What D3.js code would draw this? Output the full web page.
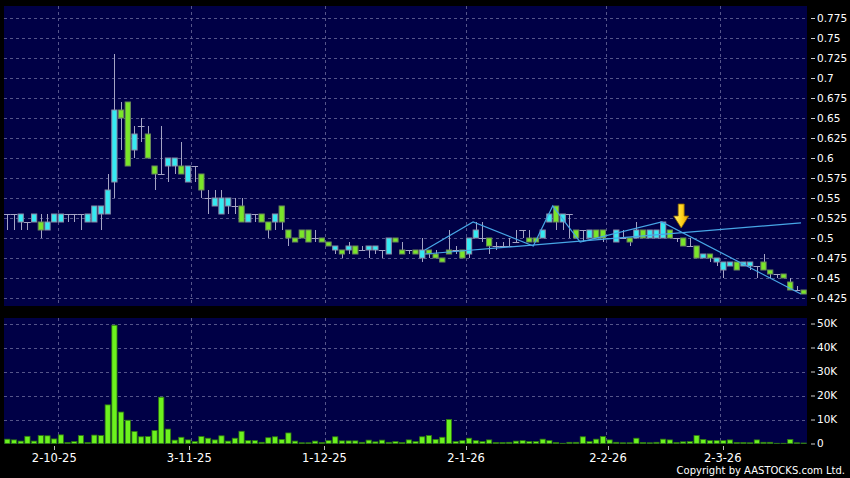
<!DOCTYPE html>
<html>
<head>
<meta charset="utf-8">
<script src="https://cdn.jsdelivr.net/npm/d3@7"></script>
<style>
  body { margin: 0; background: #000; }
  svg { display: block; }
  text { font-family: "DejaVu Sans", Verdana, sans-serif; fill: #fff; }
</style>
</head>
<body>
<script>
// trading calendar (HK holidays inside the range)
const firstDay = "2025-09-22";
const lastDay = "2026-03-19";
const holidays = ["2025-10-01", "2025-10-07", "2025-10-29", "2025-12-25", "2025-12-26",
                  "2026-01-01", "2026-02-17", "2026-02-18", "2026-02-19"];
const dateLabels = ["2-10-25", "3-11-25", "1-12-25", "2-1-26", "2-2-26", "2-3-26"];

// daily prices
const open = [0.53,0.53,0.52,0.52,0.52,0.52,0.51,0.52,0.52,0.53, 0.53,0.53,0.52,0.52,0.53,0.53,0.57,0.66,0.67,0.61,
              0.64,0.63,0.59,0.58,0.59,0.59,0.59,0.57,0.59,0.58, 0.55,0.54,0.53,0.54,0.54,0.54,0.52,0.53,0.53,0.52,
              0.52,0.54,0.51,0.50,0.51,0.51,0.50,0.50,0.495,0.485, 0.485,0.485,0.49,0.485,0.485,0.485,0.485,0.48,0.50,0.485,
              0.485,0.485,0.475,0.485,0.48,0.475,0.485,0.485,0.485,0.48, 0.50,0.50,0.50,0.49,0.49,0.49,0.495,0.51,0.50,0.50,
              0.50,0.52,0.54,0.52,0.53,0.51,0.51,0.50,0.51,0.51, 0.50,0.495,0.50,0.50,0.50,0.51,0.50,0.50,0.50,0.51,
              0.50,0.50,0.49,0.49,0.475,0.48,0.47,0.46,0.465,0.47, 0.465,0.465,0.465,0.47,0.46,0.455,0.455,0.445,0.435,0.435];
const high = [0.53,0.53,0.53,0.52,0.53,0.53,0.53,0.53,0.53,0.53, 0.53,0.53,0.53,0.54,0.54,0.58,0.73,0.67,0.67,0.64,
              0.65,0.64,0.59,0.64,0.60,0.60,0.62,0.59,0.59,0.58, 0.56,0.56,0.56,0.55,0.55,0.55,0.53,0.53,0.53,0.52,
              0.53,0.54,0.51,0.50,0.51,0.51,0.51,0.50,0.495,0.49, 0.485,0.495,0.49,0.49,0.49,0.49,0.485,0.50,0.50,0.495,
              0.485,0.485,0.50,0.485,0.485,0.475,0.51,0.49,0.485,0.50, 0.52,0.52,0.50,0.495,0.495,0.50,0.51,0.51,0.51,0.50,
              0.51,0.53,0.54,0.53,0.53,0.51,0.51,0.51,0.51,0.51, 0.50,0.51,0.51,0.50,0.52,0.51,0.51,0.51,0.52,0.51,
              0.50,0.50,0.50,0.49,0.48,0.48,0.475,0.47,0.47,0.47, 0.47,0.47,0.465,0.48,0.46,0.455,0.455,0.45,0.44,0.435];
const low = [0.51,0.51,0.51,0.51,0.52,0.50,0.51,0.52,0.52,0.52, 0.52,0.51,0.52,0.52,0.51,0.53,0.55,0.61,0.59,0.60,
             0.62,0.60,0.56,0.58,0.57,0.58,0.58,0.57,0.57,0.55, 0.53,0.54,0.53,0.53,0.53,0.52,0.52,0.52,0.52,0.50,
             0.51,0.51,0.49,0.495,0.50,0.495,0.495,0.495,0.49,0.48, 0.475,0.48,0.48,0.485,0.475,0.48,0.475,0.48,0.495,0.48,
             0.48,0.48,0.47,0.475,0.475,0.47,0.48,0.48,0.475,0.475, 0.50,0.495,0.48,0.485,0.49,0.49,0.495,0.50,0.495,0.495,
             0.50,0.52,0.51,0.51,0.50,0.50,0.495,0.50,0.50,0.495, 0.50,0.495,0.50,0.49,0.50,0.50,0.50,0.50,0.50,0.50,
             0.495,0.49,0.49,0.475,0.475,0.47,0.465,0.45,0.465,0.46, 0.465,0.46,0.45,0.46,0.45,0.45,0.45,0.435,0.435,0.43];
const close = [0.53,0.53,0.53,0.52,0.53,0.51,0.52,0.53,0.53,0.53, 0.53,0.53,0.53,0.54,0.54,0.56,0.66,0.65,0.59,0.63,
               0.64,0.60,0.58,0.58,0.60,0.60,0.58,0.59,0.59,0.56, 0.55,0.55,0.55,0.55,0.54,0.52,0.53,0.53,0.52,0.51,
               0.53,0.52,0.50,0.495,0.50,0.495,0.50,0.495,0.49,0.49, 0.48,0.49,0.48,0.485,0.49,0.49,0.485,0.50,0.495,0.48,
               0.485,0.48,0.485,0.48,0.475,0.47,0.48,0.485,0.475,0.50, 0.51,0.50,0.49,0.49,0.49,0.49,0.495,0.51,0.495,0.495,
               0.51,0.53,0.52,0.53,0.53,0.50,0.51,0.51,0.50,0.50, 0.50,0.51,0.50,0.495,0.51,0.50,0.51,0.51,0.52,0.50,
               0.50,0.49,0.49,0.475,0.48,0.475,0.475,0.47,0.47,0.46, 0.47,0.47,0.465,0.46,0.455,0.455,0.45,0.435,0.435,0.43];
// volume in thousands of shares
const volume = [1.8,1.5,1.0,3.0,1.0,3.3,3.2,1.9,3.6,0.4, 0.8,3.3,0.4,3.5,3.3,16.1,49.3,13.1,9.7,5.0,
                2.8,2.9,5.4,19.3,6.0,1.4,2.6,1.5,0.8,2.9, 2.2,1.5,3.2,1.0,2.2,5.1,1.2,1.2,0.5,2.4,
                2.8,1.7,4.4,1.0,0.3,0.3,1.0,0.4,1.2,2.8, 1.1,1.1,1.1,0.5,1.4,0.7,1.4,0.5,0.8,0.4,
                1.5,0.8,2.8,3.3,1.7,2.6,10.0,0.8,1.2,2.2, 1.2,0.8,1.5,0.4,0.4,0.5,1.0,1.2,0.8,0.8,
                1.8,1.2,0.4,0.1,0.5,0.5,2.8,0.8,1.8,2.9, 1.5,0.5,0.3,0.3,2.2,0.4,0.3,0.5,1.8,1.5,
                0.4,0.7,0.8,3.3,1.7,1.2,1.2,1.2,1.5,0.4, 0.4,0.3,1.5,0.5,0.5,0.1,0.1,1.7,0.3,0.2];

// drawn trend lines, as [day index, price]
const zigzag = [[62.4, 0.485], [69.6, 0.52], [78.6, 0.49], [81.5, 0.54], [85.6, 0.495], [97.8, 0.52], [118.6, 0.43]];
const support = [[62.4, 0.48], [118.6, 0.519]];
const arrowAt = [100.7, 0.5125];

const priceTicks = [0.425, 0.45, 0.475, 0.5, 0.525, 0.55, 0.575, 0.6, 0.625, 0.65, 0.675, 0.7, 0.725, 0.75, 0.775];
const volumeTicks = [0, 10, 20, 30, 40, 50];

// dates
const parse = d3.timeParse("%Y-%m-%d");
const iso = d3.timeFormat("%Y-%m-%d");
const short = d3.timeFormat("%-d-%-m-%y");
const days = d3.timeDay.range(parse(firstDay), d3.timeDay.offset(parse(lastDay), 1))
    .filter(d => d.getDay() % 6 !== 0 && !holidays.includes(iso(d)));
const n = days.length;

const W = 850, H = 478;
const left = 4, right = 807;
const priceTop = 6, priceBottom = 306;
const volTop = 318, volBottom = 444;

const svg = d3.select("body").append("svg")
    .attr("width", W).attr("height", H);

svg.append("rect").attr("width", W).attr("height", H).attr("fill", "#000");

// scales
const x = d3.scaleLinear().domain([-0.5, n - 0.5]).range([left, right]);
const step = x(1) - x(0);
const xTick = d3.scalePoint().domain(d3.range(n)).range([7, 810.5]);
const y = d3.scaleLinear().domain([0.415, 0.79]).range([priceBottom, priceTop]);
const yv = d3.scaleLinear().domain([0, 52.3]).range([volBottom - 0.5, volTop]);

const panelFill = "#000046";
const gridColor = "#55558a";
const cyan = "#35eaf2", green = "#7ae629";

// panels
svg.append("rect").attr("x", left).attr("y", priceTop)
    .attr("width", right - left).attr("height", priceBottom - priceTop).attr("fill", panelFill);
svg.append("rect").attr("x", left).attr("y", volTop)
    .attr("width", right - left).attr("height", volBottom - volTop).attr("fill", panelFill);

// month boundaries
const monthStarts = days.map((d, i) => ({d, i}))
    .filter(o => dateLabels.includes(short(o.d)));

// grid
const grid = svg.append("g").attr("stroke", gridColor).attr("stroke-width", 1)
    .attr("stroke-dasharray", "3,3").attr("fill", "none");
grid.selectAll(".hp").data(priceTicks).enter().append("line")
    .attr("x1", left).attr("x2", right)
    .attr("y1", d => Math.round(y(d)) + 0.5).attr("y2", d => Math.round(y(d)) + 0.5);
grid.selectAll(".hv").data(volumeTicks.filter(v => v > 0)).enter().append("line")
    .attr("x1", left).attr("x2", right)
    .attr("y1", d => Math.round(yv(d)) + 0.5).attr("y2", d => Math.round(yv(d)) + 0.5);
grid.selectAll(".vp").data(monthStarts).enter().append("line")
    .attr("x1", o => Math.round(x(o.i + 0.5)) + 0.5).attr("x2", o => Math.round(x(o.i + 0.5)) + 0.5)
    .attr("y1", priceTop).attr("y2", priceBottom);
grid.selectAll(".vv").data(monthStarts).enter().append("line")
    .attr("x1", o => Math.round(x(o.i + 0.5)) + 0.5).attr("x2", o => Math.round(x(o.i + 0.5)) + 0.5)
    .attr("y1", volTop).attr("y2", volBottom);

// candles
const candles = d3.range(n).map(i => ({i, o: open[i], h: high[i], l: low[i], c: close[i], v: volume[i]}));
const bodyW = step * 0.78;

const cg = svg.append("g");
cg.selectAll(".wick").data(candles).enter().append("line")
    .attr("x1", d => Math.round(x(d.i)) + 0.5).attr("x2", d => Math.round(x(d.i)) + 0.5)
    .attr("y1", d => y(d.h)).attr("y2", d => y(d.l))
    .attr("stroke", "#a4a4c4").attr("stroke-width", 1);

cg.selectAll(".doji").data(candles.filter(d => d.o === d.c)).enter().append("line")
    .attr("x1", d => x(d.i) - step / 2).attr("x2", d => x(d.i) + step / 2)
    .attr("y1", d => Math.round(y(d.c)) + 0.5).attr("y2", d => Math.round(y(d.c)) + 0.5)
    .attr("stroke", "#a4a4c4").attr("stroke-width", 1);

cg.selectAll(".body").data(candles.filter(d => d.o !== d.c)).enter().append("rect")
    .attr("x", d => x(d.i) - bodyW / 2)
    .attr("y", d => y(Math.max(d.o, d.c)))
    .attr("width", bodyW)
    .attr("height", d => Math.abs(y(d.o) - y(d.c)))
    .attr("fill", d => d.c > d.o ? cyan : green)
    .attr("stroke", d => d.c > d.o ? "#8a8aa6" : "#6a8a5a")
    .attr("stroke-width", 1);

// volume bars
svg.append("g").selectAll("rect").data(candles).enter().append("rect")
    .attr("x", d => x(d.i) - bodyW / 2)
    .attr("y", d => yv(d.v))
    .attr("width", bodyW)
    .attr("height", d => yv(0) - yv(d.v))
    .attr("fill", "#6cf21e")
    .attr("stroke", "#2f7a10")
    .attr("stroke-width", 0.8);

// trend lines
const line = d3.line().x(d => x(d[0])).y(d => y(d[1]));
svg.append("path").datum(zigzag).attr("d", line)
    .attr("fill", "none").attr("stroke", "#47a6e6").attr("stroke-width", 1.2);
svg.append("path").datum(support).attr("d", line)
    .attr("fill", "none").attr("stroke", "#47a6e6").attr("stroke-width", 1.2);

// arrow marker
const defs = svg.append("defs");
const grad = defs.append("linearGradient").attr("id", "arrowGrad")
    .attr("x1", 0).attr("x2", 1).attr("y1", 0).attr("y2", 0);
grad.append("stop").attr("offset", "0%").attr("stop-color", "#fff27a");
grad.append("stop").attr("offset", "55%").attr("stop-color", "#ffd21a");
grad.append("stop").attr("offset", "100%").attr("stop-color", "#e89a00");
const ax = x(arrowAt[0]), ay = y(arrowAt[1]);
svg.append("path")
    .attr("d", `M${ax},${ay} L${ax - 7.5},${ay - 12} L${ax - 3},${ay - 12} L${ax - 3},${ay - 24}
                L${ax + 3},${ay - 24} L${ax + 3},${ay - 12} L${ax + 7.5},${ay - 12} Z`)
    .attr("fill", "url(#arrowGrad)").attr("stroke", "#8a6400").attr("stroke-width", 0.8);

// right axes
const priceAxis = d3.axisRight(y).tickValues(priceTicks).tickSize(4).tickPadding(2)
    .tickFormat(d => String(+d.toFixed(3)));
const pa = svg.append("g").attr("transform", `translate(${right + 4},0)`).call(priceAxis);
pa.select(".domain").remove();
pa.selectAll("line").attr("stroke", "#cfcfcf");
pa.selectAll("text").attr("fill", "#fff").style("font-size", "10.5px")
    .style("font-family", "'DejaVu Sans', Verdana, sans-serif");

const volAxis = d3.axisRight(yv).tickValues(volumeTicks).tickSize(4).tickPadding(2)
    .tickFormat(d => d === 0 ? "0" : d + "K");
const va = svg.append("g").attr("transform", `translate(${right + 4},0)`).call(volAxis);
va.select(".domain").remove();
va.selectAll("line").attr("stroke", "#cfcfcf");
va.selectAll("text").attr("fill", "#fff").style("font-size", "10.5px")
    .style("font-family", "'DejaVu Sans', Verdana, sans-serif");

// date axis
const da = svg.append("g");
da.selectAll("line").data(monthStarts).enter().append("line")
    .attr("x1", o => Math.round(xTick(o.i)) + 0.5).attr("x2", o => Math.round(xTick(o.i)) + 0.5)
    .attr("y1", 446).attr("y2", 450).attr("stroke", "#bbbbbb");
da.selectAll("text").data(monthStarts).enter().append("text")
    .attr("x", o => xTick(o.i)).attr("y", 462)
    .attr("text-anchor", "middle").style("font-size", "11.5px")
    .text(o => short(o.d));

svg.append("text").attr("x", 845).attr("y", 474).attr("text-anchor", "end")
    .style("font-size", "10px").text("Copyright by AASTOCKS.com Ltd.");
</script>
</body>
</html>
